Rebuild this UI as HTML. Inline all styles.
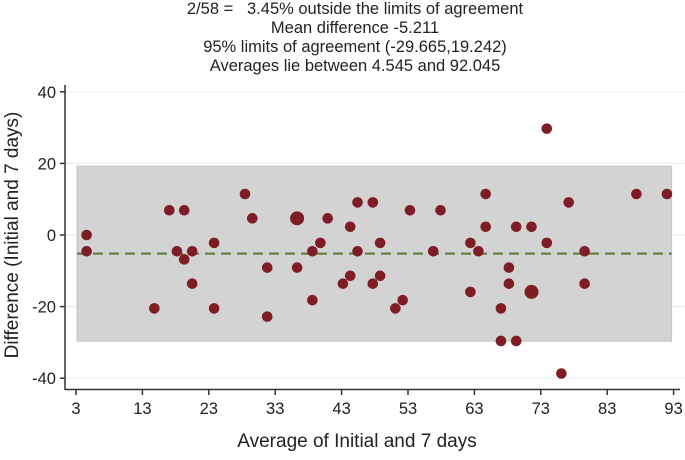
<!DOCTYPE html>
<html><head><meta charset="utf-8"><style>
body{margin:0;background:#fff;width:685px;height:455px;overflow:hidden;font-family:"Liberation Sans",sans-serif}
text{white-space:pre}
</style></head><body>
<svg id="chart" width="685" height="455" xmlns="http://www.w3.org/2000/svg" font-family="Liberation Sans, sans-serif">
<g font-size="16.5" text-anchor="middle" fill="#222">
<text x="355" y="14" xml:space="preserve">2/58 =   3.45% outside the limits of agreement</text>
<text x="355" y="33">Mean difference -5.211</text>
<text x="355" y="52">95% limits of agreement (-29.665,19.242)</text>
<text x="355" y="71">Averages lie between 4.545 and 92.045</text>
</g>
<g id="grid"></g>
<g id="band"></g>
<g id="points"></g>
<g id="axes"></g>
<text x="357" y="447" font-size="19" text-anchor="middle" fill="#222">Average of Initial and 7 days</text>
<text transform="translate(18,235) rotate(-90)" font-size="19" text-anchor="middle" fill="#222">Difference (Initial and 7 days)</text>
</svg>
<script>
const xTicks=[3,13,23,33,43,53,63,73,83,93];
const yTicks=[40,20,0,-20,-40];
const meanDiff=-5.211;
const lowerLimit=-29.665;
const upperLimit=19.242;
const xVals=[4.6,4.6,14.8,17.05,19.3,18.2,19.3,20.5,20.5,23.8,23.8,28.45,29.55,31.8,31.8,36.3,36.3,38.6,38.6,39.8,40.9,43.2,44.3,44.3,45.4,45.4,47.7,47.7,48.8,48.8,51.1,52.2,53.3,56.8,57.9,62.4,62.4,63.6,64.7,64.7,67.0,67.0,68.2,68.2,69.3,69.3,71.6,71.6,73.9,73.9,76.1,77.2,79.6,79.6,87.4,92.0];
const yVals=[0,-4.55,-20.5,6.9,6.9,-4.55,-6.8,-4.55,-13.6,-2.2,-20.5,11.45,4.66,-9.1,-22.8,4.66,-9.1,-4.55,-18.2,-2.2,4.66,-13.6,2.3,-11.4,9.1,-4.55,9.1,-13.6,-2.2,-11.4,-20.5,-18.2,6.9,-4.55,6.9,-2.2,-15.9,-4.55,11.45,2.3,-20.5,-29.6,-9.1,-13.6,2.3,-29.6,2.3,-15.9,29.7,-2.2,-38.7,9.1,-4.55,-13.6,11.45,11.45];
const counts=[1,1,1,1,1,1,1,1,1,1,1,1,1,1,1,2,1,1,1,1,1,1,1,1,1,1,1,1,1,1,1,1,1,1,1,1,1,1,1,1,1,1,1,1,1,1,1,2,1,1,1,1,1,1,1,1];
const X=v=>76+(v-3)*6.64;
const Y=v=>235-v*3.58;
const NS="http://www.w3.org/2000/svg";
function mk(t,a,p){const e=document.createElementNS(NS,t);for(const k in a)e.setAttribute(k,a[k]);p.appendChild(e);return e;}
const grid=document.getElementById('grid'),band=document.getElementById('band'),pts=document.getElementById('points'),axes=document.getElementById('axes');
yTicks.forEach(t=>{const l=mk('line',{x1:66,x2:685,y1:Y(t),y2:Y(t),stroke:'#e6f0f1','stroke-width':1.2},grid);

});
const r=mk('rect',{x:X(3)+1,y:Y(upperLimit),width:X(93)-X(3)-3,height:Y(lowerLimit)-Y(upperLimit),fill:'#d3d3d3',stroke:'#c6c6c6','stroke-width':1},band);


const ml=mk('line',{x1:X(3)+1,x2:X(93)-2,y1:Y(meanDiff),y2:Y(meanDiff),stroke:'#5a7a32','stroke-width':2,'stroke-dasharray':'10,6'},band);


xVals.forEach((v,i)=>{const c=mk('circle',{cx:X(v),cy:Y(yVals[i]),r:counts[i]>1?7:5.3,fill:'#7f1d26'},pts);

});
const ya=mk('line',{x1:65,x2:65,y1:85,y2:390,stroke:'#333','stroke-width':1.5},axes);


const xa=mk('line',{x1:65,x2:680,y1:389.5,y2:389.5,stroke:'#333','stroke-width':1.5},axes);


yTicks.forEach(t=>{mk('line',{x1:60,x2:65,y1:Y(t),y2:Y(t),stroke:'#333','stroke-width':1.5},axes);
const tx=mk('text',{x:56,y:Y(t)+6,'font-size':16.5,'text-anchor':'end',fill:'#222'},axes);tx.textContent=t;

});
xTicks.forEach(t=>{mk('line',{x1:X(t),x2:X(t),y1:389.5,y2:395,stroke:'#333','stroke-width':1.5},axes);
const tx=mk('text',{x:X(t),y:414,'font-size':16.5,'text-anchor':'middle',fill:'#222'},axes);tx.textContent=t;

});
</script>
</body></html>
